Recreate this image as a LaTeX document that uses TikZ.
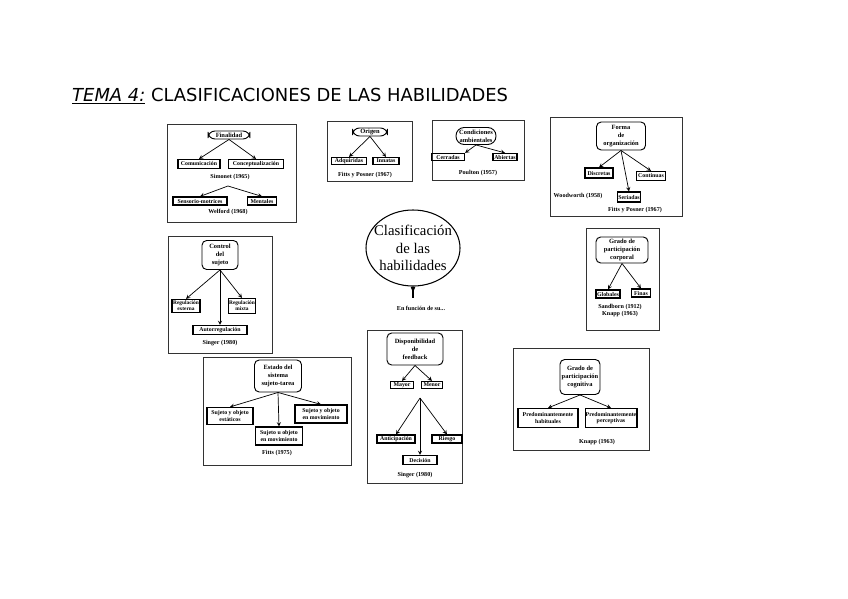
\documentclass[tikz,border=0pt]{standalone}
\usepackage{fontspec}
\setmainfont{Liberation Serif}
\newfontfamily\titlefont{DejaVu Sans}
\usetikzlibrary{positioning}
\usetikzlibrary{shapes.geometric}

\begin{document}
\begin{tikzpicture}[x=0.3mm, y=-0.3mm, >=stealth,
	panel/.style={draw=black!80, line width=0.8pt},
	head/.style={draw, rounded corners=4pt, line width=0.8pt, align=center, inner sep=0.5pt, font=\fontsize{5.5}{6.8}\selectfont\bfseries},
	leaf/.style={draw, line width=1pt, align=center, inner sep=0.5pt, font=\fontsize{5}{5.6}\selectfont\bfseries},
	cite/.style={inner sep=0pt, font=\fontsize{5.2}{5.8}\selectfont\bfseries},
	box size/.style 2 args={minimum width=#1*0.3mm, minimum height=#2*0.3mm},
	link/.style={->, line width=0.6pt}]
	\useasboundingbox (0,0) rectangle (848,599);

	\node [anchor=base west, inner sep=0pt, font=\titlefont\fontsize{15.3}{17}\selectfont] (title) at (72,102) {\underline{\textit{TEMA 4:}} CLASIFICACIONES DE LAS HABILIDADES};

	\draw[panel] (167,124) rectangle (296,222);
	\draw[panel] (327,121) rectangle (412,181);
	\draw[panel] (432,120) rectangle (524,180);
	\draw[panel] (550,117) rectangle (682,216);
	\draw[panel] (168,236) rectangle (272,353);
	\draw[panel] (586,228) rectangle (659,330);
	\draw[panel] (203,357) rectangle (351,465);
	\draw[panel] (367,330) rectangle (462,483);
	\draw[panel] (513,348) rectangle (649,450);

	\node [head, box size={42}{8}, rounded corners=6pt] (fin) at (229,135) {Finalidad};
	\node [leaf, box size={42}{9}] (fin_com) at (199,164) {Comunicación};
	\node [leaf, box size={55}{9}] (fin_con) at (256,164) {Conceptualización};
	\node [cite] (fin_c1) at (230,177) {Simonet (1965)};
	\coordinate (fin_top) at (228,186);
	\node [leaf, box size={54}{8}] (fin_sen) at (200,201) {Sensorio-motrices};
	\node [leaf, box size={29}{8}] (fin_men) at (262,201) {Mentales};
	\node [cite] (fin_c2) at (228,212) {Welford (1968)};
	\draw[link] (fin.south) -- (fin_com.north);
	\draw[link] (fin.south) -- (fin_con.north);
	\draw[link] (fin_top) -- (fin_sen.north);
	\draw[link] (fin_top) -- (fin_men.north);

	\node [head, box size={35}{8}, rounded corners=6pt] (ori) at (370,132) {Origen};
	\node [leaf, box size={35}{7}] (ori_adq) at (349,161) {Adquiridas};
	\node [leaf, box size={26}{7}] (ori_inn) at (386,161) {Innatas};
	\node [cite] (ori_c) at (365,175) {Fitts y Posner (1967)};
	\draw[link] (ori.south) -- (ori_adq.north);
	\draw[link] (ori.south) -- (ori_inn.north);

	\node [head, box size={40}{17}, rounded corners=7pt] (con) at (476,136) {Condiciones\\ambientales};
	\node [leaf, box size={33}{7}] (con_cer) at (448,157) {Cerradas};
	\node [leaf, box size={24}{7}] (con_abi) at (505,157) {Abiertas};
	\node [cite] (con_c) at (478,173) {Poulton (1957)};
	\draw[link] (con.south) -- (con_cer.north east);
	\draw[link] (con.south) -- (con_abi.north);

	\node [head, box size={49}{28}] (forma) at (621,136) {Forma\\de\\organización};
	\node [leaf, box size={28}{10}] (forma_dis) at (599,173) {Discretas};
	\node [leaf, box size={22}{10}] (forma_ser) at (629,197) {Seriadas};
	\node [leaf, box size={29}{9}] (forma_con) at (651,176) {Continuas};
	\node [cite] (forma_c1) at (578,196) {Woodworth (1958)};
	\node [cite] (forma_c2) at (635,210) {Fitts y Posner (1967)};
	\draw[link] (forma.south) -- (forma_dis.north);
	\draw[link] (forma.south) -- (forma_ser.north);
	\draw[link] (forma.south) -- (forma_con.north);

	\node [head, box size={36}{29}] (ctl) at (220,255) {Control\\del\\sujeto};
	\node [leaf, box size={28}{13}, font=\fontsize{4.6}{5.2}\selectfont\bfseries] (ctl_ext) at (186,306) {Regulación\\externa};
	\node [leaf, box size={27}{15}, font=\fontsize{4.6}{5.2}\selectfont\bfseries] (ctl_mix) at (242,306) {Regulación\\mixta};
	\node [leaf, box size={54}{9}] (ctl_aut) at (220,330) {Autorregulación};
	\node [cite] (ctl_c) at (220,343) {Singer (1980)};
	\draw[link] (ctl.south) -- (ctl_ext.north);
	\draw[link] (ctl.south) -- (ctl_mix.north);
	\draw[link] (ctl.south) -- (ctl_aut.north);

	\node [ellipse, draw, line width=0.9pt, box size={94}{76}, inner sep=-15pt, align=center, font=\fontsize{12.6}{14.8}\selectfont] (cla) at (413,248) {Clasificación\\de las\\habilidades};
	\coordinate (cla_tail) at (413,298);
	\draw[line width=0.9pt] (cla.south) -- (cla_tail);
	\fill (cla.south) ++(-2.5,0) -- ++(5,0) -- ++(-2.5,6) -- cycle;
	\node [cite] (cla_txt) at (421,308) {En función de su...};

	\node [head, box size={52}{26}] (cor) at (622,250) {Grado de\\participación\\corporal};
	\node [leaf, box size={24}{8}] (cor_glo) at (608,294) {Globales};
	\node [leaf, box size={19}{8}] (cor_fin) at (641,293) {Finas};
	\node [cite] (cor_c1) at (620,307) {Sandborn (1912)};
	\node [cite, below=1pt of cor_c1] (cor_c2) {Knapp (1963)};
	\draw[link] (cor.south) -- (cor_glo.north);
	\draw[link] (cor.south) -- (cor_fin.north);

	\node [head, box size={47}{32}] (est) at (278,376) {Estado del\\sistema\\sujeto-tarea};
	\node [leaf, box size={46}{17}] (est_est) at (230,416) {Sujeto y objeto\\estáticos};
	\node [leaf, box size={47}{18}] (est_mov) at (279,436) {Sujeto u objeto\\en movimiento};
	\node [leaf, box size={52}{18}] (est_amb) at (321,414) {Sujeto y objeto\\en movimiento};
	\node [cite] (est_c) at (277,453) {Fitts (1975)};
	\draw[link] (est.south) -- (est_est.north);
	\draw[link] (est.south) -- (est_mov.north);
	\draw[link] (est.south) -- (est_amb.north);

	\node [head, box size={56}{32}] (dis) at (415,349) {Disponibilidad\\de\\feedback};
	\node [leaf, box size={23}{7}] (dis_may) at (402,385) {Mayor};
	\node [leaf, box size={21}{7}] (dis_men) at (432,385) {Menor};
	\coordinate (dis_top) at (420,398);
	\node [leaf, box size={38}{8}] (dis_ant) at (396,439) {Anticipación};
	\node [leaf, box size={30}{8}] (dis_rie) at (447,439) {Riesgo};
	\node [leaf, box size={34}{9}] (dis_dec) at (420,460) {Decisión};
	\node [cite] (dis_c) at (415,475) {Singer (1980)};
	\draw[link] (dis.south) -- (dis_may.north);
	\draw[link] (dis.south) -- (dis_men.north);
	\draw[link] (dis_top) -- (dis_ant.north);
	\draw[link] (dis_top) -- (dis_rie.north);
	\draw[link] (dis_top) -- (dis_dec.north);

	\node [head, box size={40}{35}] (cog) at (580,377) {Grado de\\participación\\cognitiva};
	\node [leaf, box size={60}{19}] (cog_hab) at (548,418) {Predominantemente\\habituales};
	\node [leaf, box size={51}{19}] (cog_per) at (611,418) {Predominantemente\\perceptivas};
	\node [cite] (cog_c) at (597,442) {Knapp (1963)};
	\draw[link] (cog.south) -- (cog_hab.north);
	\draw[link] (cog.south) -- (cog_per.north);
\end{tikzpicture}
\end{document}
